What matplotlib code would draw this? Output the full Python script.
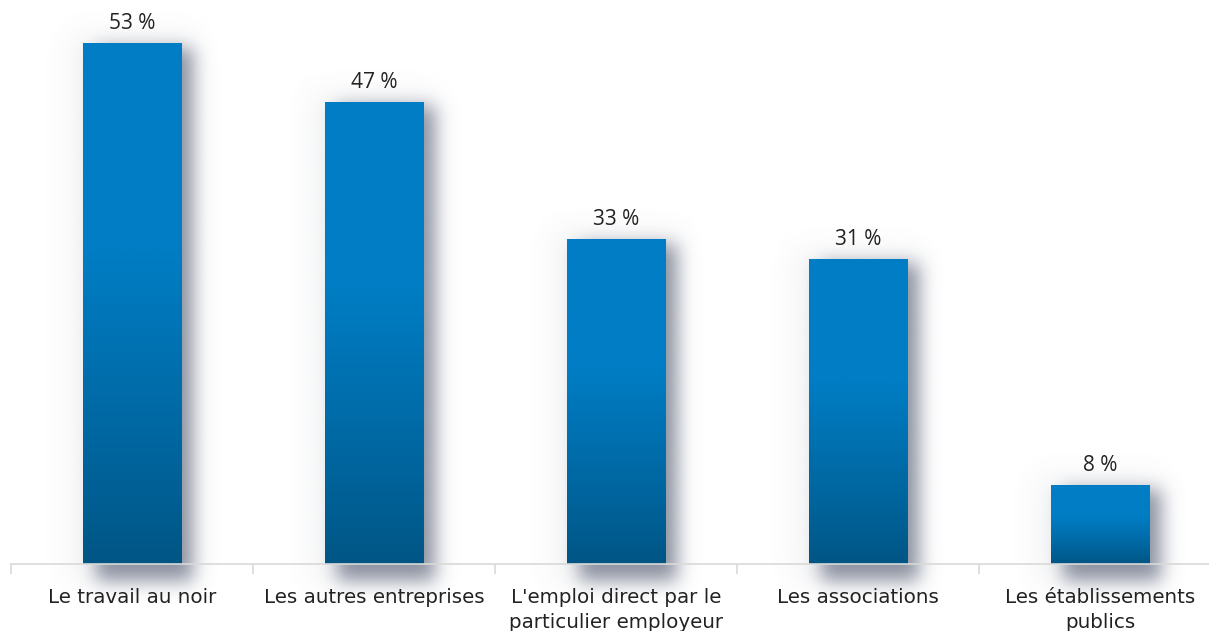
import numpy as np
import matplotlib.pyplot as plt
from matplotlib.colors import to_rgb

categories = ["Le travail au noir", "Les autres entreprises",
              "L'emploi direct par le\nparticulier employeur",
              "Les associations", "Les établissements\npublics"]
values = [53, 47, 33, 31, 8]

W, H, DPI = 1209, 631, 100
fig = plt.figure(figsize=(W / DPI, H / DPI), dpi=DPI)
ax = fig.add_axes([11 / W, 67 / H, 1 - 11 / W, 1 - 67 / H])
ax.set_xlim(-0.5, 4.45)
ax.set_ylim(0, 57.4)

bar_w = 0.405
top_c = np.array(to_rgb("#007dc4"))
bot_c = np.array(to_rgb("#005584"))

# soft drop shadow behind the bars, blurred in pixel space
px_x = W - 11
y_lo = -3.8
px_y = int((57.4 - y_lo) / 57.4 * (H - 67))
xs = np.linspace(-0.5, 4.45, px_x)
ys = np.linspace(y_lo, 57.4, px_y)

def blur(a, sigma, axis):
    r = int(3 * sigma)
    k = np.exp(-0.5 * (np.arange(-r, r + 1) / sigma) ** 2)
    k /= k.sum()
    return np.apply_along_axis(lambda m: np.convolve(m, k, mode="same"), axis, a)

def rect_mask(dx, dy, grow_x, bottom):
    m = np.zeros((px_y, px_x))
    for i, v in enumerate(values):
        inx = (xs >= i - bar_w / 2 + dx - grow_x) & (xs <= i + bar_w / 2 + dx + grow_x)
        iny = (ys >= bottom) & (ys <= v - dy)
        m[np.ix_(iny, inx)] = 1.0
    return m

core = rect_mask(0.05, 0.5, 0.0, -1.8)
core = blur(blur(core, 9, 1), 9, 0)
halo = rect_mask(0.0, -1.0, 0.06, -2.0)
halo = blur(blur(halo, 14, 1), 14, 0)
alpha = np.clip(core * 0.75 + halo * 0.08, 0, 1)
shadow = np.zeros((px_y, px_x, 4))
shadow[..., :3] = to_rgb("#737a8c")
shadow[..., 3] = alpha
ax.imshow(shadow, extent=(-0.5, 4.45, y_lo, 57.4), origin="lower",
          aspect="auto", zorder=1, clip_on=False, interpolation="bilinear")

# gradient-filled bars
t = np.linspace(0, 1, 256)
ramp = np.clip(t / 0.6, 0, 1) ** 0.9
for i, v in enumerate(values):
    grad = bot_c[None, :] + (top_c - bot_c)[None, :] * ramp[:, None]
    ax.imshow(grad[:, None, :], extent=(i - bar_w / 2, i + bar_w / 2, 0, v),
              origin="lower", aspect="auto", zorder=2, interpolation="bilinear")
    ax.text(i, v + 0.95, f"{v} %", ha="center", va="bottom", fontsize=15,
            family="Open Sans", color="#222222", zorder=3)

ax.set_xlim(-0.5, 4.45)
ax.set_ylim(0, 57.4)

for s in ["top", "right", "left"]:
    ax.spines[s].set_visible(False)
ax.spines["bottom"].set_color("#d9d9d9")
ax.spines["bottom"].set_linewidth(1.2)
ax.set_yticks([])
ax.set_xticks(np.arange(-0.5, 4.5, 1.0))
ax.set_xticklabels([])
ax.tick_params(axis="x", length=7, color="#d9d9d9", width=1.2)
for i, c in enumerate(categories):
    ax.text(i, -2.4, c, ha="center", va="top", fontsize=14.3,
            color="#222222", linespacing=1.42, clip_on=False)

fig.savefig("out.png", dpi=DPI)
